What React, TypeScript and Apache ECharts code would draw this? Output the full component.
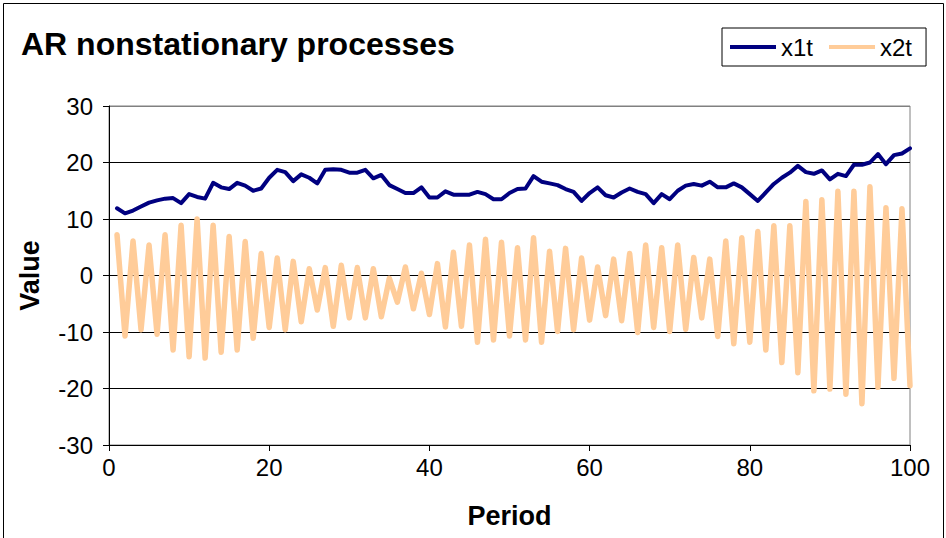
import React, { useEffect, useRef } from "react";
import * as echarts from "echarts";

const periods: number[] = Array.from({ length: 100 }, (_, i) => i + 1);

const x1t: number[] = [
  11.9, 11.0, 11.5, 12.2, 12.9, 13.3, 13.6, 13.7, 12.8, 14.4,
  13.9, 13.6, 16.4, 15.6, 15.3, 16.4, 15.9, 15.0, 15.4, 17.3,
  18.7, 18.3, 16.7, 17.9, 17.3, 16.3, 18.7, 18.8, 18.7, 18.2,
  18.2, 18.7, 17.2, 17.8, 16.0, 15.3, 14.6, 14.6, 15.6, 13.8,
  13.8, 14.9, 14.3, 14.3, 14.3, 14.8, 14.4, 13.5, 13.5, 14.6,
  15.3, 15.4, 17.6, 16.6, 16.3, 16.0, 15.3, 14.8, 13.2, 14.6,
  15.6, 14.2, 13.8, 14.7, 15.4, 14.8, 14.4, 12.8, 14.4, 13.5,
  15.0, 15.9, 16.2, 15.9, 16.6, 15.6, 15.6, 16.3, 15.6, 14.4,
  13.2, 14.7, 16.2, 17.3, 18.2, 19.4, 18.3, 18.0, 18.6, 17.0,
  18.0, 17.6, 19.6, 19.6, 20.0, 21.5, 19.7, 21.3, 21.6, 22.5,
];

const x2t: number[] = [
  7.2, -10.7, 6.1, -9.6, 5.4, -10.4, 7.2, -13.2, 8.9, -14.4,
  10.0, -14.6, 8.9, -13.6, 6.9, -13.2, 6.0, -11.1, 3.9, -9.2,
  3.1, -9.6, 2.5, -8.2, 1.2, -6.1, 1.4, -9.0, 1.8, -7.5,
  1.4, -7.5, 1.2, -7.3, -0.5, -4.7, 1.5, -5.9, 0.4, -6.9,
  2.1, -9.1, 4.1, -9.0, 5.4, -11.8, 6.4, -11.4, 5.9, -10.7,
  4.9, -11.4, 6.7, -11.8, 4.3, -9.9, 4.8, -9.6, 3.1, -7.9,
  1.5, -7.1, 2.9, -8.0, 3.9, -10.1, 5.4, -9.2, 4.9, -9.9,
  5.4, -9.5, 3.2, -7.5, 2.9, -10.8, 6.1, -12.1, 6.7, -11.8,
  7.8, -13.2, 8.8, -15.4, 8.8, -17.2, 13.1, -20.4, 13.4, -20.1,
  14.9, -21.0, 14.9, -22.7, 15.7, -19.8, 12.0, -18.2, 11.8, -19.5,
];

const seriesNames: string[] = ["x1t", "x2t"];
const titleText = "AR nonstationary processes";
const xAxisName = "Period";
const yAxisName = "Value";

const FONT = "'Liberation Sans', Arial, Helvetica, sans-serif";

export default function App() {
  const ref = useRef<HTMLDivElement>(null);

  useEffect(() => {
    if (!ref.current) return;
    const chart = echarts.init(ref.current, undefined, { renderer: "svg" });
    chart.setOption({
      animation: false,
      backgroundColor: "#ffffff",
      textStyle: { fontFamily: FONT },
      title: {
        text: titleText,
        left: 21,
        top: 28,
        padding: 0,
        textStyle: { fontSize: 32, fontWeight: "bold", color: "#000", fontFamily: FONT },
      },
      legend: {
        data: seriesNames,
        left: 722,
        top: 28,
        padding: [7, 14, 7, 8],
        itemGap: 16,
        itemWidth: 46,
        itemHeight: 4,
        icon: "rect",
        borderColor: "#000",
        borderWidth: 1,
        textStyle: { fontSize: 24, color: "#000", fontFamily: FONT },
      },
      grid: {
        left: 109,
        right: 36,
        top: 106,
        bottom: 93,
        show: true,
        borderColor: "#808080",
        borderWidth: 1,
        backgroundColor: "transparent",
      },
      xAxis: {
        type: "value",
        min: 0,
        max: 100,
        interval: 20,
        name: xAxisName,
        nameLocation: "middle",
        nameGap: 57,
        nameTextStyle: { fontSize: 27, fontWeight: "bold", color: "#000", fontFamily: FONT },
        axisLine: { show: true, onZero: false, lineStyle: { color: "#000", width: 1 } },
        axisTick: { show: true, inside: false, length: 6, lineStyle: { color: "#000" } },
        axisLabel: { fontSize: 24, color: "#000", margin: 10, fontFamily: FONT },
        splitLine: { show: false },
      },
      yAxis: {
        type: "value",
        min: -30,
        max: 30,
        interval: 10,
        name: yAxisName,
        nameLocation: "middle",
        nameRotate: 90,
        nameGap: 66,
        nameTextStyle: { fontSize: 27, fontWeight: "bold", color: "#000", fontFamily: FONT },
        axisLine: { show: true, onZero: false, lineStyle: { color: "#000", width: 1 } },
        axisTick: { show: true, inside: false, length: 6, lineStyle: { color: "#000" } },
        axisLabel: { fontSize: 24, color: "#000", margin: 16, fontFamily: FONT },
        splitLine: {
          show: true,
          lineStyle: {
            color: ["#000", "#000", "#000", "#000", "#000", "#000", "#808080"],
            width: 1,
          },
        },
      },
      series: [
        {
          name: seriesNames[0],
          type: "line",
          data: periods.map((p, i) => [p, x1t[i]]),
          showSymbol: false,
          symbol: "none",
          lineStyle: { color: "#000080", width: 4, join: "round", cap: "round" },
          itemStyle: { color: "#000080" },
          z: 3,
        },
        {
          name: seriesNames[1],
          type: "line",
          data: periods.map((p, i) => [p, x2t[i]]),
          showSymbol: false,
          symbol: "none",
          lineStyle: { color: "#FFCC99", width: 5.5, join: "round", cap: "round" },
          itemStyle: { color: "#FFCC99" },
          z: 2,
        },
      ],
      graphic: [
        {
          type: "rect",
          shape: { x: 3.5, y: 3.5, width: 940, height: 600 },
          style: { fill: "none", stroke: "#000", lineWidth: 1 },
          silent: true,
        },
      ],
    });
    return () => chart.dispose();
  }, []);

  return (
    <div
      ref={ref}
      style={{ position: "fixed", left: 0, top: 0, width: 946, height: 538, background: "#fff" }}
    />
  );
}
